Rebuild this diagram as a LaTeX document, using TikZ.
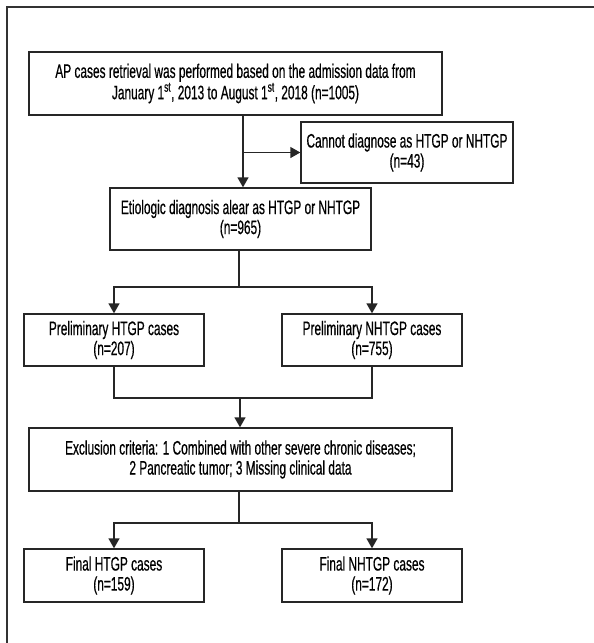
\documentclass[tikz,border=0pt]{standalone}
\usepackage{fontspec}
\setmainfont[FakeStretch=0.61,FakeBold=0.5]{Liberation Sans}
\usetikzlibrary{arrows.meta}
\begin{document}
\begin{tikzpicture}[x=1pt,y=-1pt,
  box/.style={draw=black!85,line width=1.4pt,inner sep=0pt,align=center,
    font=\fontsize{19.5}{20}\selectfont},
  ln/.style={draw=black!85,line width=1.4pt},
  arr/.style={ln,-{Triangle[width=11pt,length=10pt]}}]
\useasboundingbox (0,0) rectangle (594,643);
\draw[line width=1.4pt,draw=black!80] (7,643) -- (7,7) -- (594,7);
\node[box,minimum width=413pt,minimum height=63pt] (b1) at (235.5,83.5)
  {AP cases retrieval was performed based on the admission data from\\
   January 1\textsuperscript{st}, 2013 to August 1\textsuperscript{st}, 2018 (n=1005)};
\node[box,minimum width=212pt,minimum height=61pt] (bc) at (407,152.5)
  {Cannot diagnose as HTGP or NHTGP\\(n=43)};
\node[box,minimum width=261pt,minimum height=62pt] (b2) at (240.5,219)
  {Etiologic diagnosis alear as HTGP or NHTGP\\(n=965)};
\node[box,minimum width=180pt,minimum height=52pt] (b3) at (114,340)
  {Preliminary HTGP cases\\(n=207)};
\node[box,minimum width=180pt,minimum height=52pt] (b4) at (372,340)
  {Preliminary NHTGP cases\\(n=755)};
\node[box,minimum width=423pt,minimum height=63pt] (b5) at (240.5,459.5)
  {Exclusion criteria: 1 Combined with other severe chronic diseases;\\
   2 Pancreatic tumor; 3 Missing clinical data};
\node[box,minimum width=180pt,minimum height=53pt] (b6) at (114,575.5)
  {Final HTGP cases\\(n=159)};
\node[box,minimum width=180pt,minimum height=53pt] (b7) at (372,575.5)
  {Final NHTGP cases\\(n=172)};
\coordinate (m1) at (243,152.5);
\draw[arr] (b1.south -| m1) -- (b2.north -| m1);
\draw[arr] (m1) -- (bc.west);
\coordinate (s2) at (239,287);
\draw[ln] (b2.south -| s2) -- (s2);
\draw[arr] (s2) -| (b3.north);
\draw[arr] (s2) -| (b4.north);
\coordinate (j) at (240,398);
\draw[ln] (b3.south) |- (j) -| (b4.south);
\draw[arr] (j) -- (b5.north -| j);
\coordinate (s5) at (239,523);
\draw[ln] (b5.south -| s5) -- (s5);
\draw[arr] (s5) -| (b6.north);
\draw[arr] (s5) -| (b7.north);
\end{tikzpicture}
\end{document}
